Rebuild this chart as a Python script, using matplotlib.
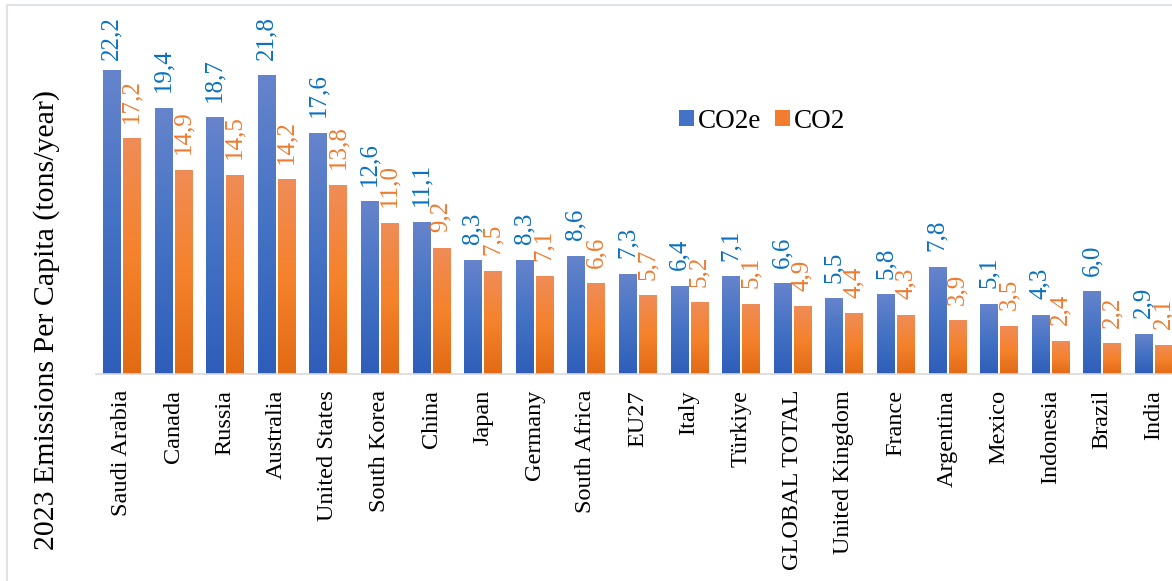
import numpy as np
import matplotlib
matplotlib.use('Agg')
from matplotlib import pyplot as plt
from matplotlib.colors import LinearSegmentedColormap
from matplotlib.patches import Patch
from matplotlib.lines import Line2D

plt.rcParams['font.family'] = ['Liberation Serif', 'DejaVu Serif']

countries = ['Saudi Arabia', 'Canada', 'Russia', 'Australia', 'United States',
             'South Korea', 'China', 'Japan', 'Germany', 'South Africa', 'EU27',
             'Italy', 'Türkiye', 'GLOBAL TOTAL', 'United Kingdom', 'France',
             'Argentina', 'Mexico', 'Indonesia', 'Brazil', 'India']
co2e = [22.2, 19.4, 18.7, 21.8, 17.6, 12.6, 11.1, 8.3, 8.3, 8.6, 7.3,
        6.4, 7.1, 6.6, 5.5, 5.8, 7.8, 5.1, 4.3, 6.0, 2.9]
co2 = [17.2, 14.9, 14.5, 14.2, 13.8, 11.0, 9.2, 7.5, 7.1, 6.6, 5.7,
       5.2, 5.1, 4.9, 4.4, 4.3, 3.9, 3.5, 2.4, 2.2, 2.1]

W, H = 1172, 581
fig = plt.figure(figsize=(W / 100, H / 100), dpi=100)

# plot area in pixels: left 95.7, slot 51.6 px per country, baseline at 374
slot = 51.6
px_per_unit = 13.69
top_px = 40
ax = fig.add_axes([95.7 / W, (H - 374) / H, 21 * slot / W, (374 - top_px) / H])
ymax = (374 - top_px) / px_per_unit

# light tint on top, base colour in the middle, darker shade at the bottom
blue_cmap = LinearSegmentedColormap.from_list('b', ['#2E5EB9', '#4472C4', '#6684CC'])
orange_cmap = LinearSegmentedColormap.from_list('o', ['#E26A15', '#F5822C', '#EF8C57'])
grad = np.linspace(0, 1, 256).reshape(-1, 1)

x = np.arange(len(countries))
bw = 0.33
off = 0.194

def gradient_bars(xs, vals, cmap):
    for xi, v in zip(xs, vals):
        ax.imshow(grad, extent=[xi - bw / 2, xi + bw / 2, 0, v], origin='lower',
                  aspect='auto', cmap=cmap, interpolation='bicubic', zorder=2)

gradient_bars(x - off, co2e, blue_cmap)
gradient_bars(x + off, co2, orange_cmap)

# value labels, pushed down where they would run past the top of the chart
pad = 16 / px_per_unit
cap = 22.95
for xi, v in zip(x - off, co2e):
    ax.text(xi, min(v + pad, cap), f'{v:.1f}'.replace('.', ','), rotation=90,
            ha='center', va='bottom', color='#0A70C0', fontsize=18)
for xi, v in zip(x + off, co2):
    ax.text(xi, min(v + pad, cap), f'{v:.1f}'.replace('.', ','), rotation=90,
            ha='center', va='bottom', color='#EE7B30', fontsize=18)

ax.set_xlim(-0.5, len(countries) - 0.5)
ax.set_ylim(0, ymax)
ax.set_xticks(x)
ax.set_xticklabels(countries, rotation=90, fontsize=17.5, va='top', ha='center')
ax.tick_params(axis='x', length=0, pad=11.5)
ax.set_yticks([])
for s in ['top', 'right', 'left']:
    ax.spines[s].set_visible(False)
ax.spines['bottom'].set_color('#D9D9D9')
ax.spines['bottom'].set_linewidth(1.2)
ax.spines['bottom'].set_zorder(3)

fig.text(47 / W, 1 - 320 / H, '2023 Emissions Per Capita (tons/year)', rotation=90,
         ha='center', va='center', fontsize=21.5)

handles = [Patch(facecolor='#4472C4', edgecolor='none', label='CO2e'),
           Patch(facecolor='#F27D2E', edgecolor='none', label='CO2')]
fig.legend(handles=handles, loc='center left', bbox_to_anchor=(679 / W, 1 - 121 / H),
           ncol=2, frameon=False, fontsize=19.5, borderpad=0, borderaxespad=0,
           handlelength=0.55, handleheight=0.55, handletextpad=0.15, columnspacing=0.5)

# outer frame, only the top and left edges fall inside the image
fig.add_artist(Line2D([6.5 / W, 1], [1 - 5 / H, 1 - 5 / H], color='#DFE2E8', lw=1.5))
fig.add_artist(Line2D([6.5 / W, 6.5 / W], [0, 1 - 5 / H], color='#DFE2E8', lw=1.5))

fig.savefig('out.png', dpi=100)
